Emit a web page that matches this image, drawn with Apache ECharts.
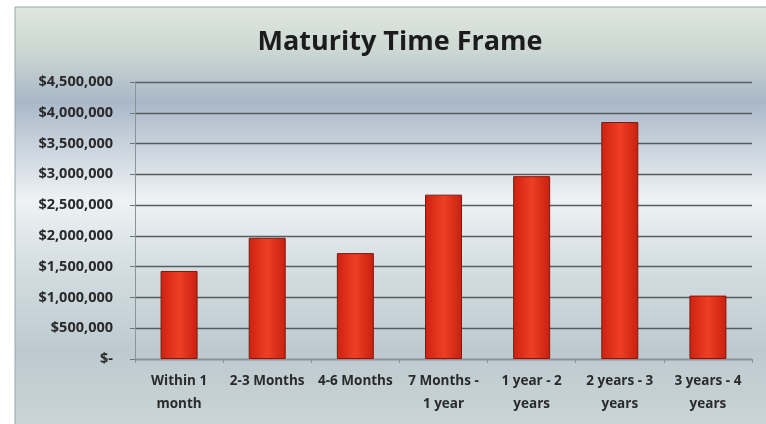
<!DOCTYPE html>
<html>
<head>
<meta charset="utf-8">
<script src="https://cdn.jsdelivr.net/npm/echarts@6/dist/echarts.min.js"></script>
<style>
  html, body { margin: 0; padding: 0; background: #fff; }
  #chart { width: 766px; height: 424px; }
</style>
</head>
<body>
<div id="chart"></div>
<script>
var categories = ['Within 1\nmonth', '2-3 Months', '4-6 Months', '7 Months -\n1 year', '1 year - 2\nyears', '2 years - 3\nyears', '3 years - 4\nyears'];
var amounts = [1430000, 1970000, 1720000, 2670000, 2970000, 3850000, 1030000];
var yTicks = { min: 0, max: 4500000, interval: 500000 };

var chart = echarts.init(document.getElementById('chart'));

function money(v) {
    if (v === 0) return '$-';
    return '$' + v.toString().replace(/\B(?=(\d{3})+(?!\d))/g, ',');
}

option = {
    animation: false,
    textStyle: { fontFamily: 'Open Sans' },
    graphic: [
        {
            type: 'rect',
            z: -10,
            shape: { x: 15, y: 7, width: 760, height: 430 },
            style: {
                fill: new echarts.graphic.LinearGradient(0, 0, 0, 1, [
                    { offset: 0, color: '#dfe6e2' },
                    { offset: 0.1, color: '#cdd8d2' },
                    { offset: 0.22, color: '#a9b8c8' },
                    { offset: 0.32, color: '#c8d2dc' },
                    { offset: 0.45, color: '#eef2f4' },
                    { offset: 0.6, color: '#d5dee2' },
                    { offset: 0.8, color: '#bccacf' },
                    { offset: 1, color: '#cdd6d8' }
                ]),
                stroke: '#9aa4a8',
                lineWidth: 1
            }
        }
    ],
    title: {
        text: 'Maturity Time Frame',
        left: 395,
        textAlign: 'center',
        top: 24,
        textStyle: { fontSize: 27, fontWeight: 'bold', color: '#1c1c1c', fontFamily: 'Open Sans' }
    },
    grid: { left: 135, right: 14, top: 82, bottom: 65 },
    xAxis: {
        type: 'category',
        data: categories,
        axisLine: { lineStyle: { color: '#8a9498' } },
        axisTick: { show: true, length: 4, lineStyle: { color: '#8a9498' } },
        axisLabel: {
            interval: 0,
            margin: 11,
            fontSize: 13.5,
            fontWeight: 'bold',
            color: '#2a2a2a',
            lineHeight: 23
        }
    },
    yAxis: {
        type: 'value',
        min: yTicks.min,
        max: yTicks.max,
        interval: yTicks.interval,
        axisLine: { show: true, lineStyle: { color: '#8a9498' } },
        axisTick: { show: true, length: 5, lineStyle: { color: '#6a7478' } },
        splitLine: { lineStyle: { color: '#555d60', width: 1.3 } },
        axisLabel: {
            margin: 22,
            fontSize: 14.5,
            fontWeight: 'bold',
            color: '#2a2a2a',
            formatter: money
        }
    },
    series: [
        {
            type: 'bar',
            data: amounts,
            barWidth: 37,
            itemStyle: {
                color: new echarts.graphic.LinearGradient(0, 0, 1, 0, [
                    { offset: 0, color: '#cc2212' },
                    { offset: 0.5, color: '#ef3e24' },
                    { offset: 1, color: '#c82010' }
                ]),
                borderColor: '#7c1a10',
                borderWidth: 1
            }
        }
    ]
};

chart.setOption(option);
</script>
</body>
</html>
